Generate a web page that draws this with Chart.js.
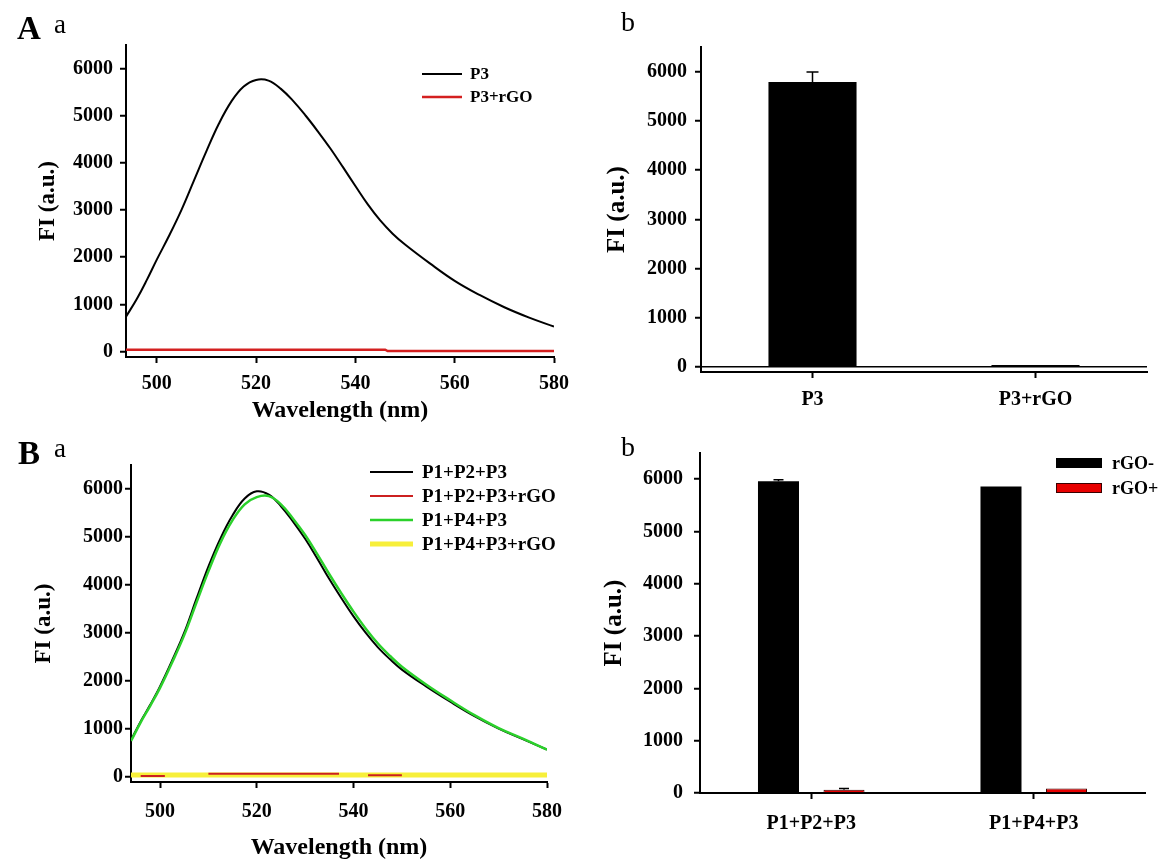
<!DOCTYPE html>
<html><head><meta charset="utf-8">
<script src="https://cdn.jsdelivr.net/npm/chart.js@4.4.1/dist/chart.umd.min.js"></script>
<style>
html,body{margin:0;padding:0;background:#fff;width:1165px;height:863px;overflow:hidden;}
canvas{position:absolute;}
.lab{position:absolute;font-family:'Liberation Serif',serif;color:#000;line-height:1;white-space:nowrap;}
.big{font-weight:bold;font-size:33px;}
.small{font-size:27px;}
.smallb{font-size:28px;}
</style></head><body>
<canvas id="cAa" width="580" height="430" style="left:0;top:0"></canvas>
<canvas id="cAb" width="585" height="430" style="left:580px;top:0"></canvas>
<canvas id="cBa" width="580" height="433" style="left:0;top:430px"></canvas>
<canvas id="cBb" width="585" height="433" style="left:580px;top:430px"></canvas>
<div class="lab big" style="left:17px;top:12px">A</div>
<div class="lab small" style="left:54px;top:11px">a</div>
<div class="lab smallb" style="left:621px;top:8px">b</div>
<div class="lab big" style="left:18px;top:437px">B</div>
<div class="lab small" style="left:54px;top:435px">a</div>
<div class="lab smallb" style="left:621px;top:433px">b</div>
<script>
// ---------- data ----------
const yTickValues = [0, 1000, 2000, 3000, 4000, 5000, 6000];
const xTickValues = [500, 520, 540, 560, 580];

// Panel A-a
const wlA = [493.8, 496, 498, 500, 502.5, 505, 507.5, 510, 512.5, 515, 517.5, 520, 522.5, 525, 527.5, 530, 532.5, 535, 537.5, 540, 542.5, 545, 547.5, 550, 555, 560, 565, 570, 575, 580];
const fiP3 = [740, 1120, 1520, 1950, 2460, 3010, 3630, 4250, 4830, 5300, 5620, 5760, 5745, 5570, 5310, 5000, 4660, 4300, 3910, 3510, 3120, 2780, 2500, 2270, 1870, 1500, 1200, 940, 720, 530];
const wlP3rGO = [493.8, 546, 546.5, 580];
const fiP3rGO = [40, 40, 12, 12];

// Panel A-b
const catsA = ['P3', 'P3+rGO'];
const fiBarA = [5790, 40];
const errBarA = [200, 0];

// Panel B-a
const wlB = [494, 496, 498, 500, 502.5, 505, 507.5, 510, 512.5, 515, 517.5, 520, 522.5, 525, 527.5, 530, 532.5, 535, 537.5, 540, 542.5, 545, 547.5, 550, 555, 560, 565, 570, 575, 580];
const fiP1P2P3 = [760, 1150, 1500, 1880, 2420, 3000, 3700, 4380, 4970, 5450, 5800, 5950, 5880, 5640, 5320, 4960, 4550, 4120, 3720, 3340, 3000, 2700, 2450, 2230, 1880, 1560, 1260, 1000, 780, 560];
const fiP1P4P3 = [740, 1130, 1480, 1850, 2380, 2950, 3620, 4280, 4880, 5350, 5680, 5830, 5850, 5680, 5380, 5040, 4640, 4220, 3820, 3440, 3090, 2780, 2520, 2290, 1920, 1590, 1280, 1010, 790, 560];
const wlP1P2P3rGO = [496, 501, 501.5, 510, 537, 537.5, 543, 550];
const fiP1P2P3rGO = [12, 12, null, 55, 55, null, 25, 25];
const wlP1P4P3rGO = [494, 580];
const fiP1P4P3rGO = [30, 30];

// Panel B-b
const catsB = ['P1+P2+P3', 'P1+P4+P3'];
const fiRgoMinus = [5960, 5860];
const errRgoMinus = [30, 0];
const fiRgoPlus = [60, 85];
const errRgoPlus = [25, 0];

// ---------- helpers ----------
const FAM = "'Liberation Serif', 'Times New Roman', serif";
const pts = (xs, ys) => xs.map((x, i) => ({x: x, y: ys[i]}));
const plain = v => String(v);

const legendPlugin = {
  id: 'refLegend',
  afterDraw(chart, args, o) {
    if (!o || !o.show) return;
    const ctx = chart.ctx;
    ctx.save();
    ctx.font = 'bold ' + o.size + 'px ' + FAM;
    ctx.textBaseline = 'middle';
    ctx.textAlign = 'left';
    chart.data.datasets.forEach((ds, i) => {
      const y = o.y + i * o.rowH;
      if (o.box) {
        ctx.fillStyle = ds.backgroundColor;
        ctx.fillRect(o.x, y - o.boxH / 2, o.len, o.boxH);
        ctx.strokeStyle = ds.borderColor; ctx.lineWidth = 1;
        ctx.strokeRect(o.x + 0.5, y - o.boxH / 2 + 0.5, o.len - 1, o.boxH - 1);
      } else {
        ctx.strokeStyle = ds.borderColor;
        ctx.lineWidth = ds.borderWidth;
        ctx.beginPath(); ctx.moveTo(o.x, y); ctx.lineTo(o.x + o.len, y); ctx.stroke();
      }
      ctx.fillStyle = '#000';
      ctx.fillText(ds.label, o.x + o.len + o.gap, y + 1);
    });
    ctx.restore();
  }
};

const errPlugin = {
  id: 'errBars',
  afterDatasetsDraw(chart, args, o) {
    const ctx = chart.ctx, ys = chart.scales.y;
    chart.data.datasets.forEach((ds, i) => {
      if (!ds.errUp) return;
      const meta = chart.getDatasetMeta(i);
      meta.data.forEach((el, j) => {
        const e = ds.errUp[j];
        if (!e) return;
        const yTop = ys.getPixelForValue(ds.data[j] + e);
        const cap = (o && o.cap) || 6;
        ctx.save();
        ctx.strokeStyle = '#000'; ctx.lineWidth = 1.5;
        ctx.beginPath();
        ctx.moveTo(el.x, el.y); ctx.lineTo(el.x, yTop);
        ctx.moveTo(el.x - cap, yTop); ctx.lineTo(el.x + cap, yTop);
        ctx.stroke();
        ctx.restore();
      });
    });
  }
};

const TICKFONT = {family: FAM, weight: 'bold', size: 20};

function yAxis(min, max, width, labelPad, titlePad, titleSize, zeroLine) {
  return {
    type: 'linear', min: min, max: max,
    afterBuildTicks: s => { s.ticks = yTickValues.map(v => ({value: v})); },
    afterFit: s => { s.width = width; },
    ticks: {font: TICKFONT, color: '#000', padding: labelPad, autoSkip: false, callback: plain},
    grid: {
      drawOnChartArea: !!zeroLine, drawTicks: true, tickLength: 6, tickColor: '#000', tickWidth: 2,
      color: ctx => (zeroLine && ctx.tick && ctx.tick.value === 0) ? '#000' : 'rgba(0,0,0,0)',
      lineWidth: 1.5
    },
    border: {display: true, color: '#000', width: 2},
    title: {display: true, text: 'FI (a.u.)', color: '#000', font: {family: FAM, weight: 'bold', size: titleSize}, padding: {top: titlePad, bottom: 0}}
  };
}

function xLinear(min, max, height, labelPad, titlePad) {
  return {
    type: 'linear', min: min, max: max,
    afterBuildTicks: s => { s.ticks = xTickValues.map(v => ({value: v})); },
    afterFit: s => { s.height = height; },
    ticks: {font: TICKFONT, color: '#000', padding: labelPad, maxRotation: 0, minRotation: 0, autoSkip: false, callback: plain},
    grid: {drawOnChartArea: false, drawTicks: true, tickLength: 6, tickColor: '#000', tickWidth: 2},
    border: {display: true, color: '#000', width: 2},
    title: {display: true, text: 'Wavelength (nm)', color: '#000', font: {family: FAM, weight: 'bold', size: 24}, padding: {top: 0, bottom: titlePad}}
  };
}

function xCat(height, labelPad) {
  return {
    type: 'category', offset: true,
    afterFit: s => { s.height = height; },
    ticks: {font: TICKFONT, color: '#000', padding: labelPad, maxRotation: 0, minRotation: 0, autoSkip: false},
    grid: {offset: false, drawOnChartArea: false, drawTicks: true, tickLength: 6, tickColor: '#000', tickWidth: 2},
    border: {display: true, color: '#000', width: 2}
  };
}

const base = {
  responsive: false, animation: false, devicePixelRatio: 1,
  events: []
};

// ---------- A-a ----------
new Chart(document.getElementById('cAa'), {
  type: 'line',
  data: {datasets: [
    {label: 'P3', data: pts(wlA, fiP3), borderColor: '#000', borderWidth: 2, pointRadius: 0, tension: 0.4, order: 1},
    {label: 'P3+rGO', data: pts(wlP3rGO, fiP3rGO), borderColor: '#d42020', borderWidth: 2.5, pointRadius: 0, order: 0}
  ]},
  options: Object.assign({}, base, {
    layout: {padding: {left: 0, top: 45, right: 26, bottom: 0}},
    scales: {x: xLinear(493.8, 580, 73, 9, 5), y: yAxis(-115, 6500, 126, 7, 34, 23, false)},
    plugins: {legend: {display: false}, tooltip: {enabled: false},
      refLegend: {show: true, x: 422, y: 74, rowH: 23, len: 40, gap: 8, size: 17}}
  }),
  plugins: [legendPlugin]
});

// ---------- A-b ----------
new Chart(document.getElementById('cAb'), {
  type: 'bar',
  data: {labels: catsA, datasets: [
    {label: 'FI', data: fiBarA, errUp: errBarA, backgroundColor: '#000', borderColor: '#000', borderWidth: 0, barPercentage: 0.395, categoryPercentage: 1}
  ]},
  options: Object.assign({}, base, {
    layout: {padding: {left: 0, top: 47, right: 18, bottom: 0}},
    scales: {x: xCat(58, 10), y: yAxis(-100, 6500, 121, 8, 23, 25, true)},
    plugins: {legend: {display: false}, tooltip: {enabled: false}, errBars: {cap: 6}}
  }),
  plugins: [errPlugin]
});

// ---------- B-a ----------
new Chart(document.getElementById('cBa'), {
  type: 'line',
  data: {datasets: [
    {label: 'P1+P2+P3', data: pts(wlB, fiP1P2P3), borderColor: '#000', borderWidth: 2, pointRadius: 0, tension: 0.4, order: 3},
    {label: 'P1+P2+P3+rGO', data: pts(wlP1P2P3rGO, fiP1P2P3rGO), borderColor: '#cc2020', borderWidth: 2, pointRadius: 0, spanGaps: false, order: 0},
    {label: 'P1+P4+P3', data: pts(wlB, fiP1P4P3), borderColor: '#2bd12b', borderWidth: 2.5, pointRadius: 0, tension: 0.4, order: 2},
    {label: 'P1+P4+P3+rGO', data: pts(wlP1P4P3rGO, fiP1P4P3rGO), borderColor: '#f7ef3a', borderWidth: 5, pointRadius: 0, order: 1}
  ]},
  options: Object.assign({}, base, {
    layout: {padding: {left: 0, top: 35, right: 33, bottom: 0}},
    scales: {x: xLinear(494, 580, 81, 12, 1), y: yAxis(-115, 6500, 131, 2, 30, 23, false)},
    plugins: {legend: {display: false}, tooltip: {enabled: false},
      refLegend: {show: true, x: 370, y: 42, rowH: 24, len: 43, gap: 9, size: 19}}
  }),
  plugins: [legendPlugin]
});

// ---------- B-b ----------
new Chart(document.getElementById('cBb'), {
  type: 'bar',
  data: {labels: catsB, datasets: [
    {label: 'rGO-', data: fiRgoMinus, errUp: errRgoMinus, backgroundColor: '#000', borderColor: '#000', borderWidth: 0, barPercentage: 0.626, categoryPercentage: 0.589},
    {label: 'rGO+', data: fiRgoPlus, errUp: errRgoPlus, backgroundColor: '#e80000', borderColor: '#3a0000', borderWidth: 1, barPercentage: 0.626, categoryPercentage: 0.589}
  ]},
  options: Object.assign({}, base, {
    layout: {padding: {left: 0, top: 22, right: 20, bottom: 0}},
    scales: {x: xCat(70, 13), y: yAxis(0, 6500, 120, 11, 20, 25, false)},
    plugins: {legend: {display: false}, tooltip: {enabled: false}, errBars: {cap: 5},
      refLegend: {show: true, box: true, x: 476, y: 33, rowH: 25, len: 46, boxH: 10, gap: 10, size: 18}}
  }),
  plugins: [errPlugin, legendPlugin]
});
</script>
</body></html>
